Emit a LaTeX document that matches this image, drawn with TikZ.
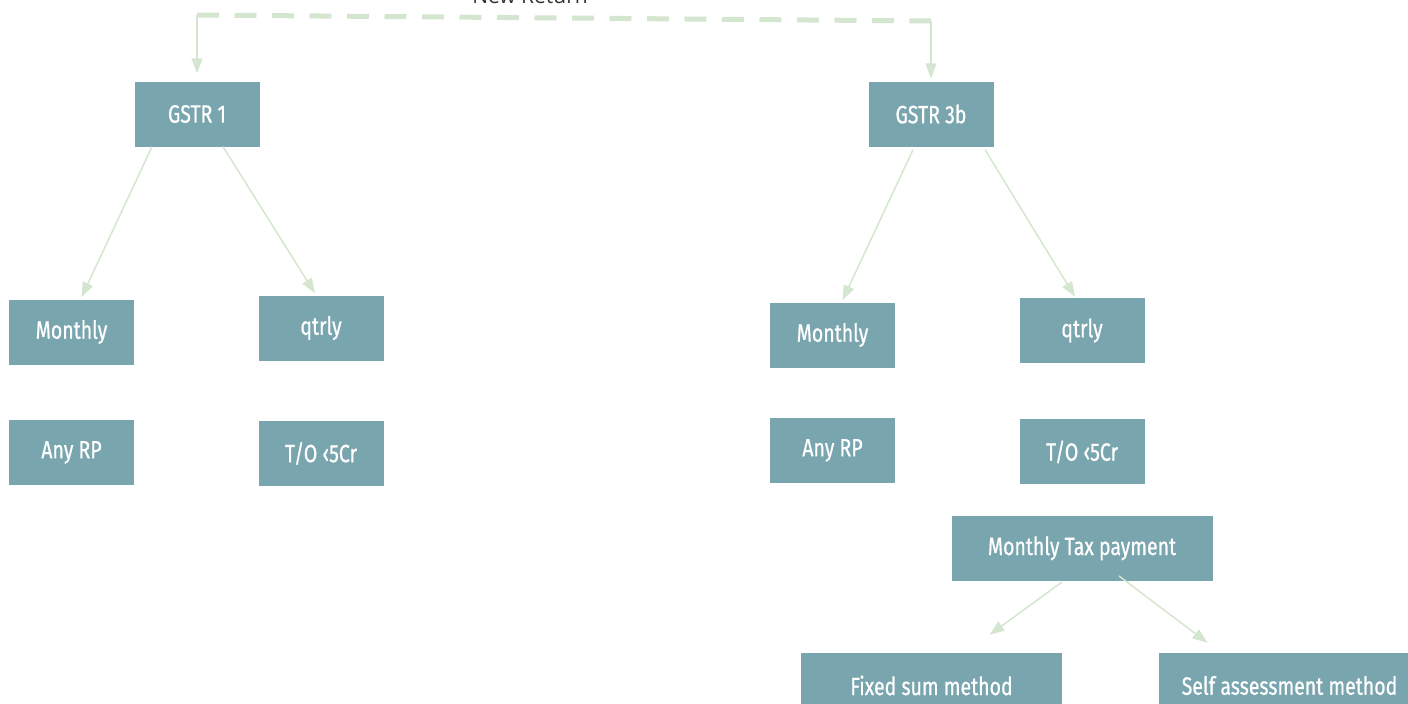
\documentclass[tikz,border=0pt]{standalone}
\usepackage{fontspec}
\setmainfont{Open Sans}
\newfontfamily\narrowfont[FakeStretch=0.78,FakeBold=0.7]{Fira Sans}
\usetikzlibrary{arrows.meta,positioning}
\definecolor{boxteal}{HTML}{79A5AE}
\definecolor{linkgreen}{HTML}{D5E6D0}
\definecolor{labelgrey}{HTML}{333333}

\begin{document}
\begin{tikzpicture}[x=1pt, y=-1pt,
    node distance=55pt,
    box/.style={fill=boxteal, text=white, font=\narrowfont\fontsize{25}{28}\selectfont,
                minimum width=125pt, minimum height=65pt, inner sep=0pt},
    widebox/.style={box, minimum width=261pt},
    link/.style={draw=linkgreen, line width=1.5pt, -{Triangle[length=15pt,width=11pt]}},
    dashlink/.style={draw=linkgreen, line width=5pt, dash pattern=on 22pt off 15.5pt}]
    \useasboundingbox (0,0) rectangle (1408,704);

    % top label, cut off by the page edge
    \node[font=\fontsize{21}{24}\selectfont, text=labelgrey, anchor=base] (newret) at (530,4) {New Return};

    % GSTR 1 side
    \node[box] (gstr1) at (197,114) {GSTR 1};
    \node[box] (mon1)  at (71.5,332) {Monthly};
    \node[box] (qtr1)  at (321,328) {qtrly};
    \node[box] (rp1)   [below=55pt of mon1] {Any RP};
    \node[box] (to1)   [below=60pt of qtr1] {T/O ‹5Cr};

    % GSTR 3b side
    \node[box] (gstr3b) at (931,114) {GSTR 3b};
    \node[box] (mon2)   at (832.5,335) {Monthly};
    \node[box] (qtr2)   at (1082,330.5) {qtrly};
    \node[box] (rp2)    [below=50pt of mon2] {Any RP};
    \node[box] (to2)    [below=56pt of qtr2] {T/O ‹5Cr};
    \node[widebox] (tax)   [below=31pt of to2] {Monthly Tax payment};
    \node[widebox] (fixed) at (931.5,685.5) {Fixed sum method};
    \node[widebox] (self)  at (1289.5,685.5) {Self assessment method};

    % return split
    \coordinate (ltop) at (197,15);
    \coordinate (rtop) at (931,21);
    \draw[dashlink] (ltop) -- (rtop);
    \draw[link] (ltop) -- ([yshift=8pt]gstr1.north);
    \draw[link] (rtop) -- ([yshift=3pt]gstr3b.north);

    \draw[link] ([xshift=-45pt]gstr1.south) -- ([xshift=10pt,yshift=2pt]mon1.north);
    \draw[link] ([xshift=26pt]gstr1.south) -- ([xshift=-6pt,yshift=2pt]qtr1.north);
    \draw[link] ([xshift=-18pt,yshift=-3pt]gstr3b.south) -- ([xshift=10pt,yshift=2pt]mon2.north);
    \draw[link] ([xshift=54pt,yshift=-3pt]gstr3b.south) -- ([xshift=-7pt,yshift=1pt]qtr2.north);
    \draw[link] ([xshift=-20pt,yshift=-1pt]tax.south) -- ([xshift=58pt,yshift=18pt]fixed.north);
    \draw[link] ([xshift=37pt,yshift=5pt]tax.south) -- ([xshift=-82pt,yshift=10pt]self.north);
\end{tikzpicture}
\end{document}
